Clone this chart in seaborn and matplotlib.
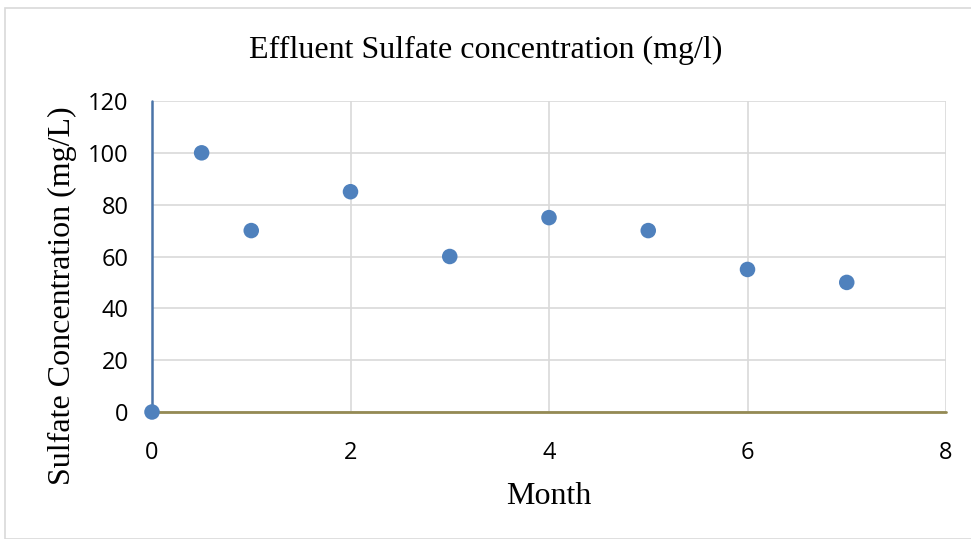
import matplotlib
matplotlib.use("Agg")
import matplotlib.pyplot as plt
import seaborn as sns
import pandas as pd
from matplotlib.patches import Rectangle

months = [0, 0.5, 1, 2, 3, 4, 5, 6, 7]
sulfate = [0, 100, 70, 85, 60, 75, 70, 55, 50]
x_ticks = [0, 2, 4, 6, 8]
y_ticks = [0, 20, 40, 60, 80, 100, 120]

df = pd.DataFrame({"Month": months, "Sulfate": sulfate})

sns.set_theme(style="white")
fig = plt.figure(figsize=(9.71, 5.39), dpi=100)
ax = fig.add_axes([152/971, 1-412/539, (946-152)/971, (412-101)/539])

fig.patches.append(Rectangle((5/971, 0), 1.0, 1-8/539, transform=fig.transFigure,
                             fill=False, edgecolor="#d9d9d9", linewidth=1.2, zorder=0))

ax.set_xlim(0, 8)
ax.set_ylim(0, 120)
ax.set_xticks(x_ticks)
ax.set_yticks(y_ticks)
ax.grid(True, color="#d9d9d9", linewidth=1.2)
ax.set_axisbelow(True)
for s in ["top", "right", "bottom", "left"]:
    ax.spines[s].set_visible(False)
ax.axhline(0, color="#948a54", linewidth=2.0, zorder=2, clip_on=False)
ax.axvline(0, color="#4a74a8", linewidth=1.8, zorder=2, clip_on=False)

sns.scatterplot(data=df, x="Month", y="Sulfate", ax=ax, color="#4f81bd",
                s=125, edgecolor="none", zorder=3, clip_on=False)

tick_font = "Open Sans"
for lab in ax.get_xticklabels() + ax.get_yticklabels():
    lab.set_fontfamily(tick_font)
    lab.set_fontsize(17)
    lab.set_color("black")
ax.tick_params(axis="x", pad=21, length=0)
ax.tick_params(axis="y", pad=17, length=0)

ax.set_xlabel("Month", fontfamily="Liberation Serif", fontsize=23, labelpad=12, color="black")
ax.set_ylabel("Sulfate Concentration (mg/L)", fontfamily="Liberation Serif", fontsize=23,
              color="black")
ax.yaxis.set_label_coords(-0.094, 0.373)
fig.text(0.5, 1-50/539, "Effluent Sulfate concentration (mg/l)", ha="center", va="center",
         fontfamily="Liberation Serif", fontsize=23, color="black")

fig.savefig("out.png", dpi=100)
